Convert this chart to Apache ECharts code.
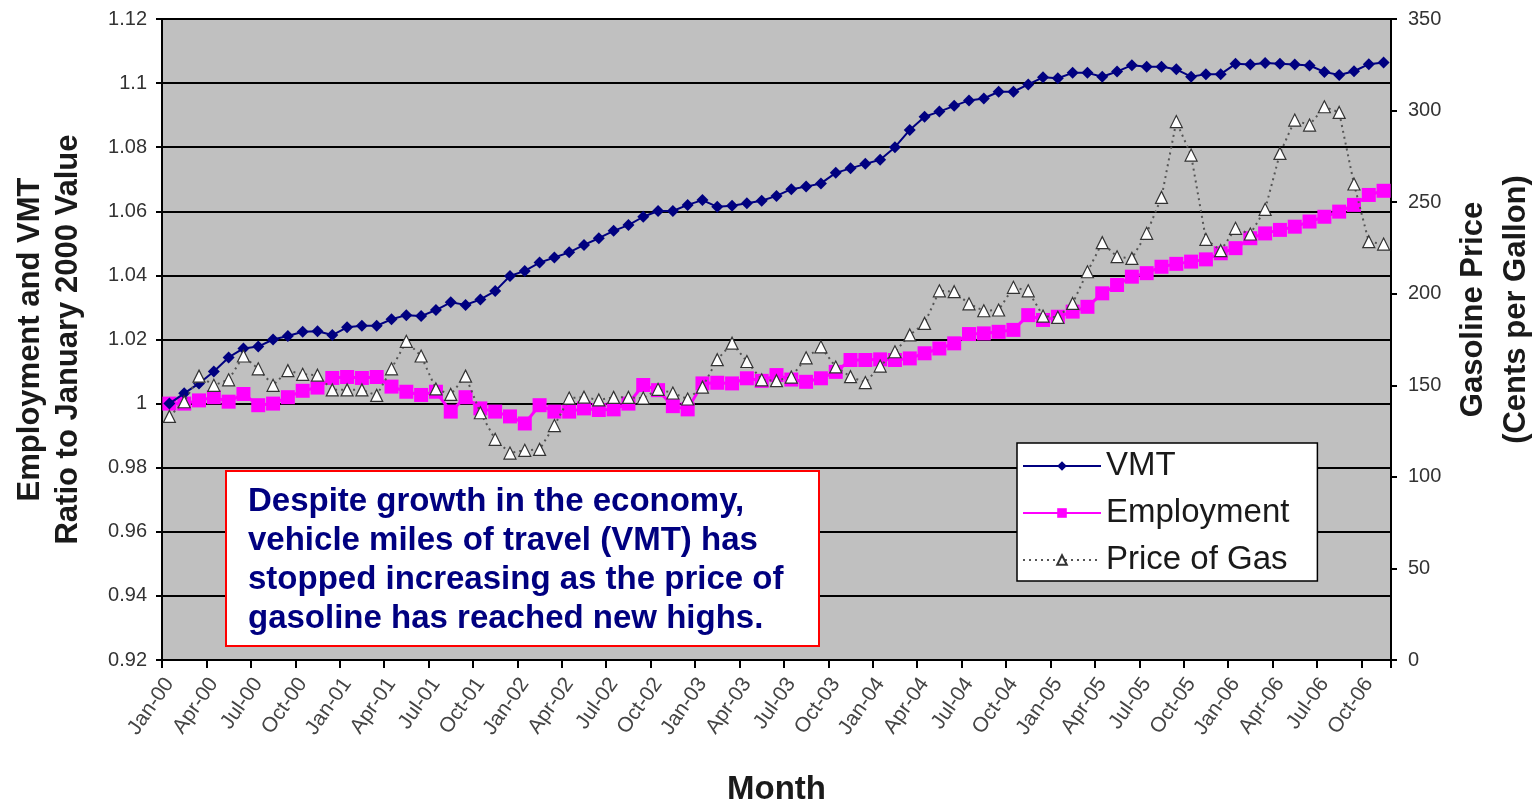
<!DOCTYPE html>
<html>
<head>
<meta charset="utf-8">
<title>VMT, Employment and Price of Gas</title>
<script src="https://cdn.jsdelivr.net/npm/echarts@6/dist/echarts.min.js"></script>
<style>
  html, body { margin: 0; padding: 0; background: #fff; }
  #chart { width: 1539px; height: 802px; }
</style>
</head>
<body>
<div id="chart"></div>
<script>
// tick labels: every month from Jan-00 to Nov-06
const monthNames = ['Jan', 'Feb', 'Mar', 'Apr', 'May', 'Jun', 'Jul', 'Aug', 'Sep', 'Oct', 'Nov', 'Dec'];
const yearNames = ['00', '01', '02', '03', '04', '05', '06'];
const monthCount = 83;
const months = [];
for (let i = 0; i < monthCount; i++) {
  months.push(monthNames[i % 12] + '-' + yearNames[Math.floor(i / 12)]);
}

// ratio to January 2000 value
const vmt = [
  1.000, 1.0032, 1.0063, 1.0100, 1.0144, 1.0172, 1.0178, 1.0200, 1.0211, 1.0224, 1.0226, 1.0214,
  1.0238, 1.0243, 1.0243, 1.0263, 1.0276, 1.0273, 1.0292, 1.0316, 1.0308, 1.0325, 1.0351, 1.0398,
  1.0414, 1.0440, 1.0456, 1.0472, 1.0495, 1.0516, 1.0539, 1.0557, 1.0583, 1.0601, 1.0601, 1.0620,
  1.0635, 1.0614, 1.0617, 1.0625, 1.0633, 1.0648, 1.0669, 1.0677, 1.0687, 1.0720, 1.0734, 1.0748,
  1.0761, 1.0800, 1.0854, 1.0895, 1.0911, 1.0929, 1.0946, 1.0952, 1.0973, 1.0973, 1.0996, 1.1018,
  1.1015, 1.1032, 1.1032, 1.1020, 1.1036, 1.1056, 1.1051, 1.1051, 1.1043, 1.1020, 1.1028, 1.1028,
  1.1060, 1.1058, 1.1063, 1.1060, 1.1058, 1.1055, 1.1035, 1.1025, 1.1037, 1.1059, 1.1064
];

const employment = [
  1.000, 1.000, 1.001, 1.002, 1.0006, 1.003, 0.9995, 1.000, 1.002, 1.004, 1.005, 1.008,
  1.0083, 1.008, 1.0083, 1.0053, 1.0037, 1.0027, 1.0037, 0.9975, 1.002, 0.9985, 0.9975, 0.996,
  0.9938, 0.9995, 0.9975, 0.9975, 0.9985, 0.998, 0.9982, 1.000, 1.0058, 1.0042, 0.9992, 0.9982,
  1.0063, 1.0065, 1.0063, 1.0079, 1.0071, 1.0089, 1.0075, 1.0068, 1.0079, 1.0099, 1.0136, 1.0136,
  1.0138, 1.0136, 1.0141, 1.0157, 1.0172, 1.0188, 1.0217, 1.0219, 1.0224, 1.023, 1.0276, 1.0261,
  1.0271, 1.0287, 1.0302, 1.0344, 1.037, 1.0396, 1.0407, 1.0427, 1.0436, 1.0443, 1.045, 1.0469,
  1.0485, 1.0516, 1.0531, 1.0542, 1.0552, 1.0568, 1.0583, 1.0599, 1.062, 1.0651, 1.0664
];

// cents per gallon
const gasPrice = [
  133, 141, 155, 150, 153, 166, 159, 150, 158, 156, 155.5, 147.5,
  147.5, 147.5, 144.5, 159, 174, 166, 148, 145, 155, 135, 120.5, 113,
  114.5, 115, 128, 143, 143.5, 142, 143.4, 143.4, 143, 147.8, 145.8, 142.5,
  149, 164, 173, 163, 153, 152.5, 154.5, 165, 171, 160, 154.7, 151.5,
  160.5, 168.3, 177.5, 183.8, 201.6, 201.1, 194.5, 190.7, 191.1, 203.5, 201.6, 187.8,
  187.1, 194.7, 212, 227.9, 220.2, 219.3, 233, 252.6, 294, 275.7, 229.7, 223.5,
  235.7, 232.6, 246.1, 276.6, 294.8, 292.1, 302.1, 299, 259.9, 228.4, 227.1
];

const noteText = [
  'Despite growth in the economy,',
  'vehicle miles of travel (VMT) has',
  'stopped increasing as the price of',
  'gasoline has reached new highs.'
];

const font = '"Liberation Sans", Arial, Helvetica, sans-serif';

let chart = echarts.init(document.getElementById('chart'));

let option = {
  animation: false,
  backgroundColor: '#fff',
  textStyle: { fontFamily: font },
  grid: {
    left: 162,
    right: 148,
    top: 19,
    bottom: 142,
    show: true,
    backgroundColor: '#c0c0c0',
    borderWidth: 0,
    containLabel: false,
    outerBoundsMode: 'none'
  },
  legend: {
    orient: 'vertical',
    left: 1017,
    top: 443,
    itemWidth: 78,
    itemHeight: 12,
    itemGap: 13,
    padding: [6, 28, 4, 5],
    backgroundColor: '#fff',
    borderColor: '#000',
    borderWidth: 1.5,
    borderRadius: 0,
    textStyle: { fontSize: 33, color: '#1a1a1a', lineHeight: 34, fontFamily: font },
    data: ['VMT', 'Employment', 'Price of Gas']
  },
  xAxis: {
    type: 'category',
    data: months,
    boundaryGap: true,
    axisLine: { show: true, lineStyle: { color: '#000', width: 2 } },
    axisTick: { show: true, interval: 2, length: 8, lineStyle: { color: '#000', width: 2 } },
    axisLabel: { interval: 2, rotate: 55, fontSize: 21, color: '#444', margin: 20, fontFamily: font },
    splitLine: { show: false },
    name: 'Month',
    nameLocation: 'middle',
    nameGap: 113,
    nameTextStyle: { fontSize: 33, fontWeight: 'bold', color: '#1a1a1a', lineHeight: 34, fontFamily: font }
  },
  yAxis: [
    {
      type: 'value',
      position: 'left',
      min: 0.92,
      max: 1.12,
      interval: 0.02,
      axisLine: { show: true, lineStyle: { color: '#000', width: 2 } },
      axisTick: { show: true, length: 6, lineStyle: { color: '#000', width: 2 } },
      axisLabel: {
        fontSize: 20,
        color: '#333',
        margin: 15,
        fontFamily: font,
        formatter: v => String(parseFloat(v.toFixed(2)))
      },
      splitLine: { show: true, lineStyle: { color: '#000', width: 2 } },
      name: 'Employment and VMT\nRatio to January 2000 Value',
      nameLocation: 'middle',
      nameRotate: 90,
      nameGap: 75,
      nameTextStyle: { fontSize: 31, fontWeight: 'bold', color: '#1a1a1a', lineHeight: 38, fontFamily: font }
    },
    {
      type: 'value',
      position: 'right',
      min: 0,
      max: 350,
      interval: 50,
      axisLine: { show: true, lineStyle: { color: '#000', width: 2 } },
      axisTick: { show: true, length: 6, lineStyle: { color: '#000', width: 2 } },
      axisLabel: { fontSize: 20, color: '#333', margin: 17, fontFamily: font },
      splitLine: { show: false },
      name: 'Gasoline Price\n(Cents per Gallon)',
      nameLocation: 'middle',
      nameRotate: 90,
      nameGap: 58,
      nameTextStyle: {
        fontSize: 31, fontWeight: 'bold', color: '#1a1a1a', lineHeight: 43, fontFamily: font,
        padding: [0, 0, 0, 60]
      }
    }
  ],
  series: [
    {
      name: 'Employment',
      type: 'line',
      data: employment,
      z: 2,
      smooth: false,
      showAllSymbol: true,
      symbol: 'rect',
      symbolSize: 14,
      itemStyle: { color: '#ff00ff' },
      lineStyle: { color: '#ff00ff', width: 3 }
    },
    {
      name: 'VMT',
      type: 'line',
      data: vmt,
      z: 3,
      smooth: false,
      showAllSymbol: true,
      symbol: 'diamond',
      symbolSize: 12,
      itemStyle: { color: '#000080' },
      lineStyle: { color: '#000080', width: 2 }
    },
    {
      name: 'Price of Gas',
      type: 'line',
      yAxisIndex: 1,
      data: gasPrice,
      z: 4,
      smooth: false,
      showAllSymbol: true,
      symbol: 'triangle',
      symbolSize: 12,
      itemStyle: { color: '#fff', borderColor: '#333', borderWidth: 1.2 },
      lineStyle: { color: '#555', width: 2, type: [2, 4] }
    }
  ],
  graphic: [
    {
      type: 'group',
      left: 225,
      top: 470,
      z: 100,
      children: [
        {
          type: 'rect',
          z: 100,
          shape: { x: 0, y: 0, width: 593, height: 175 },
          style: { fill: '#fff', stroke: '#ff0000', lineWidth: 2 }
        },
        {
          type: 'text',
          z: 101,
          style: {
            x: 22,
            y: 11,
            text: noteText.join('\n'),
            fontSize: 33,
            fontWeight: 'bold',
            fontFamily: font,
            lineHeight: 39,
            fill: '#000080'
          }
        }
      ]
    }
  ]
};

chart.setOption(option);
</script>
</body>
</html>
